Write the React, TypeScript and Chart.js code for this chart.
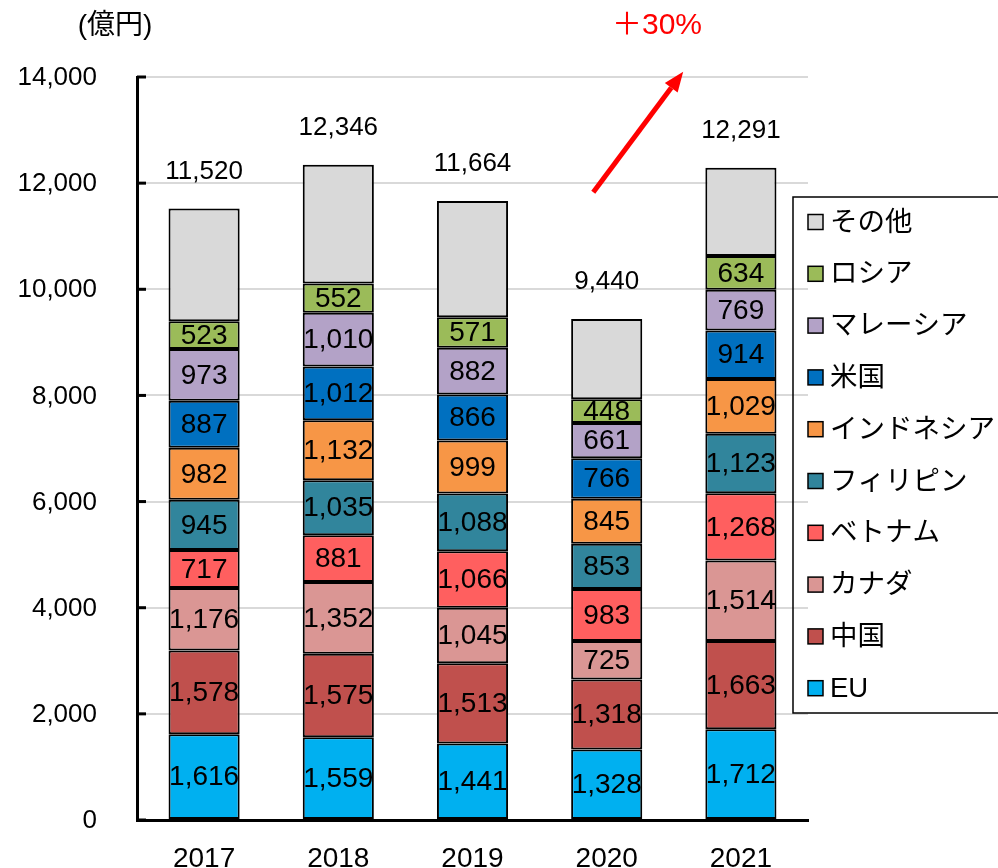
import React, { useEffect, useRef } from "react";
import { Chart, registerables } from "chart.js";

Chart.register(...registerables);

const years = ["2017", "2018", "2019", "2020", "2021"];
const seriesNames = ["EU", "中国", "カナダ", "ベトナム", "フィリピン", "インドネシア", "米国", "マレーシア", "ロシア", "その他"];
const eu = [1616, 1559, 1441, 1328, 1712];
const china = [1578, 1575, 1513, 1318, 1663];
const canada = [1176, 1352, 1045, 725, 1514];
const vietnam = [717, 881, 1066, 983, 1268];
const philippines = [945, 1035, 1088, 853, 1123];
const indonesia = [982, 1132, 999, 845, 1029];
const usa = [887, 1012, 866, 766, 914];
const malaysia = [973, 1010, 882, 661, 769];
const russia = [523, 552, 571, 448, 634];
const others = [2123, 2238, 2193, 1513, 1665];
const totals = [11520, 12346, 11664, 9440, 12291];
const colors = ["#00B0F0", "#C0504D", "#DA9694", "#FF5F5F", "#31859C", "#F79646", "#0070C0", "#B3A2C7", "#9BBB59", "#D9D9D9"];
const yTicks = [0, 2000, 4000, 6000, 8000, 10000, 12000, 14000];
const unitLabel = "(億円)";
const growthLabel = "＋30%";

const FONT = '"Liberation Sans", "Noto Sans CJK JP", sans-serif';
const fmt = (v: number) => v.toLocaleString("en-US");

export default function App() {
  const ref = useRef<HTMLCanvasElement | null>(null);
  useEffect(() => {
    if (!ref.current) return;
    const seriesData = [eu, china, canada, vietnam, philippines, indonesia, usa, malaysia, russia, others];
    const overlay = {
      id: "overlay",
      afterDatasetsDraw(chart: any) {
        const ctx = chart.ctx;
        const xs = chart.scales.x;
        const ys = chart.scales.y;
        const area = chart.chartArea;
        ctx.save();
        // inward ticks on y axis + tick labels
        ctx.fillStyle = "#000";
        ctx.font = `26px ${FONT}`;
        ctx.textAlign = "right";
        ctx.textBaseline = "middle";
        yTicks.forEach((t) => {
          const y = ys.getPixelForValue(t);
          ctx.fillRect(area.left, y - 1.5, 9, 3);
          ctx.fillText(fmt(t), 97, y + 1);
        });
        // segment labels
        ctx.font = `28px ${FONT}`;
        ctx.textAlign = "center";
        for (let d = 0; d < seriesData.length - 1; d++) {
          const meta = chart.getDatasetMeta(d);
          meta.data.forEach((bar: any, i: number) => {
            ctx.fillText(fmt(seriesData[d][i]), bar.x, (bar.y + bar.base) / 2 + 1);
          });
        }
        // totals
        ctx.font = `26px ${FONT}`;
        const topMeta = chart.getDatasetMeta(seriesData.length - 1);
        topMeta.data.forEach((bar: any, i: number) => {
          ctx.fillText(fmt(totals[i]), bar.x, bar.y - 37);
        });
        // unit label
        ctx.font = `28px ${FONT}`;
        ctx.fillText(unitLabel, 115, 26);
        // growth arrow
        const x0 = xs.getPixelForValue(2.9);
        const y0 = ys.getPixelForValue(11830);
        const x1 = xs.getPixelForValue(3.57);
        const y1 = ys.getPixelForValue(14100);
        const ang = Math.atan2(y1 - y0, x1 - x0);
        const head = 20;
        const hx = x1 - head * Math.cos(ang);
        const hy = y1 - head * Math.sin(ang);
        ctx.strokeStyle = "#FF0000";
        ctx.fillStyle = "#FF0000";
        ctx.lineWidth = 5;
        ctx.beginPath();
        ctx.moveTo(x0, y0);
        ctx.lineTo(hx, hy);
        ctx.stroke();
        ctx.beginPath();
        ctx.moveTo(x1, y1);
        ctx.lineTo(hx + 8 * Math.sin(ang), hy - 8 * Math.cos(ang));
        ctx.lineTo(hx - 8 * Math.sin(ang), hy + 8 * Math.cos(ang));
        ctx.closePath();
        ctx.fill();
        ctx.font = `30px ${FONT}`;
        ctx.fillText(growthLabel, 657, 26);
        // legend
        const lx = 793, ly = 197, lw = 210, lh = 516;
        ctx.strokeStyle = "#000";
        ctx.lineWidth = 1.5;
        ctx.strokeRect(lx, ly, lw, lh);
        ctx.textAlign = "left";
        ctx.font = `27.5px ${FONT}`;
        for (let k = 0; k < seriesNames.length; k++) {
          const idx = seriesNames.length - 1 - k;
          const cy = 222 + k * 51.8;
          ctx.fillStyle = colors[idx];
          ctx.fillRect(808, cy - 7.5, 15, 15);
          ctx.lineWidth = 1.5;
          ctx.strokeRect(808, cy - 7.5, 15, 15);
          ctx.fillStyle = "#000";
          ctx.fillText(seriesNames[idx], 830, cy + 1);
        }
        ctx.restore();
      },
    };
    const chart = new Chart(ref.current, {
      type: "bar",
      data: {
        labels: years,
        datasets: seriesNames.map((name, i) => ({
          label: name,
          data: seriesData[i],
          backgroundColor: colors[i],
          borderColor: "#000",
          borderWidth: 2,
          borderSkipped: false,
          categoryPercentage: 1,
          barPercentage: 0.53,
        })),
      },
      options: {
        animation: false,
        responsive: false,
        devicePixelRatio: 1,
        layout: { padding: { left: 0, top: 77, right: 190, bottom: 0 } },
        plugins: { legend: { display: false }, tooltip: { enabled: false } },
        scales: {
          x: {
            stacked: true,
            grid: { display: false, drawTicks: false },
            border: { display: true, color: "#000", width: 3 },
            ticks: { color: "#000", font: { family: FONT, size: 28 }, padding: 22 },
            afterFit: (s: any) => { s.height = 48; },
          },
          y: {
            stacked: true,
            min: 0,
            max: 14000,
            grid: { color: "#D9D9D9", lineWidth: 2, drawTicks: false },
            border: { display: true, color: "#000", width: 3 },
            ticks: { stepSize: 2000, display: false },
            afterFit: (s: any) => { s.width = 137; },
          },
        },
      },
      plugins: [overlay],
    });
    return () => chart.destroy();
  }, []);
  return (
    <div style={{ position: "fixed", left: 0, top: 0, width: 998, height: 868, background: "#fff" }}>
      <canvas ref={ref} width={998} height={868} style={{ width: 998, height: 868 }} />
    </div>
  );
}
